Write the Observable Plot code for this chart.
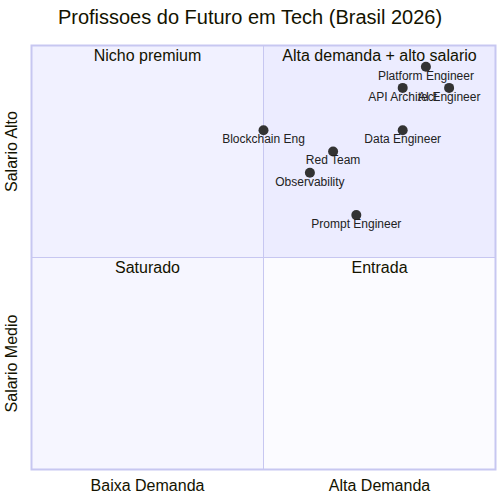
<!DOCTYPE html>
<html>
<head>
<meta charset="utf-8">
<script src="https://cdn.jsdelivr.net/npm/d3@7"></script>
<script src="https://cdn.jsdelivr.net/npm/@observablehq/plot@0.6"></script>
<style>
  html, body { margin: 0; padding: 0; background: #fff; }
  body { width: 500px; font-family: "Liberation Sans", Arial, sans-serif; }
  #title { height: 35px; line-height: 35px; text-align: center; font-size: 20px; color: #131300; }
  svg { display: block; }
</style>
</head>
<body>
<div id="title">Profissoes do Futuro em Tech (Brasil 2026)</div>
<div id="chart"></div>
<script>
// Points
const names = ["Platform Engineer", "API Architect", "AI Engineer", "Blockchain Eng", "Data Engineer", "Red Team", "Observability", "Prompt Engineer"];
const demand = [0.85, 0.80, 0.90, 0.50, 0.80, 0.65, 0.60, 0.70];
const salary = [0.95, 0.90, 0.90, 0.80, 0.80, 0.75, 0.70, 0.60];

// Quadrants
const quadLabels = ["Alta demanda + alto salario", "Nicho premium", "Saturado", "Entrada"];
const quadX1 = [0.5, 0, 0, 0.5];
const quadX2 = [1, 0.5, 0.5, 1];
const quadY1 = [0.5, 0.5, 0, 0];
const quadY2 = [1, 1, 0.5, 0.5];
const quadFill = ["#ECECFF", "#F1F1FF", "#F6F6FF", "#FBFBFF"];

// Axis tick labels
const xTickPos = [0.25, 0.75];
const xTickLabels = ["Baixa Demanda", "Alta Demanda"];
const yTickPos = [0.25, 0.75];
const yTickLabels = ["Salario Medio", "Salario Alto"];

const points = names.map((n, i) => ({name: n, x: demand[i], y: salary[i]}));
const quads = quadLabels.map((l, i) => ({label: l, x1: quadX1[i], x2: quadX2[i], y1: quadY1[i], y2: quadY2[i], fill: quadFill[i], cx: (quadX1[i] + quadX2[i]) / 2}));
const xTicks = xTickPos.map((p, i) => ({p, label: xTickLabels[i]}));

const border = "#C7C7F1";
const font = "Liberation Sans, Arial, sans-serif";

const chart = Plot.plot({
  width: 500,
  height: 465,
  marginTop: 10,
  marginBottom: 31,
  marginLeft: 31,
  marginRight: 5,
  style: {fontFamily: font, background: "white"},
  x: {domain: [0, 1], axis: null},
  y: {domain: [0, 1], axis: null},
  marks: [
    Plot.rect(quads, {x1: "x1", x2: "x2", y1: "y1", y2: "y2", fill: "fill"}),
    Plot.ruleX([0.5], {stroke: border, strokeWidth: 1}),
    Plot.ruleY([0.5], {stroke: border, strokeWidth: 1}),
    Plot.frame({stroke: border, strokeWidth: 2}),
    Plot.text(quads, {x: "cx", y: "y2", text: "label", lineAnchor: "top", dy: 4, fontSize: 16, fill: "#131300"}),
    Plot.dot(points, {x: "x", y: "y", r: 5, fill: "#333333", stroke: "none"}),
    Plot.text(points, {x: "x", y: "y", text: "name", dy: 9, fontSize: 12, fill: "#222222"}),
    Plot.text(xTicks, {x: "p", text: "label", frameAnchor: "bottom", lineAnchor: "top", dy: 10, fontSize: 16, fill: "#131300"}),
    Plot.axisY(yTickPos, {tickSize: 0, tickPadding: 15, tickRotate: -90, fontSize: 16, fill: "#131300", label: null, tickFormat: (d, i) => yTickLabels[i]})
  ]
});
document.getElementById("chart").appendChild(chart);
</script>
</body>
</html>
